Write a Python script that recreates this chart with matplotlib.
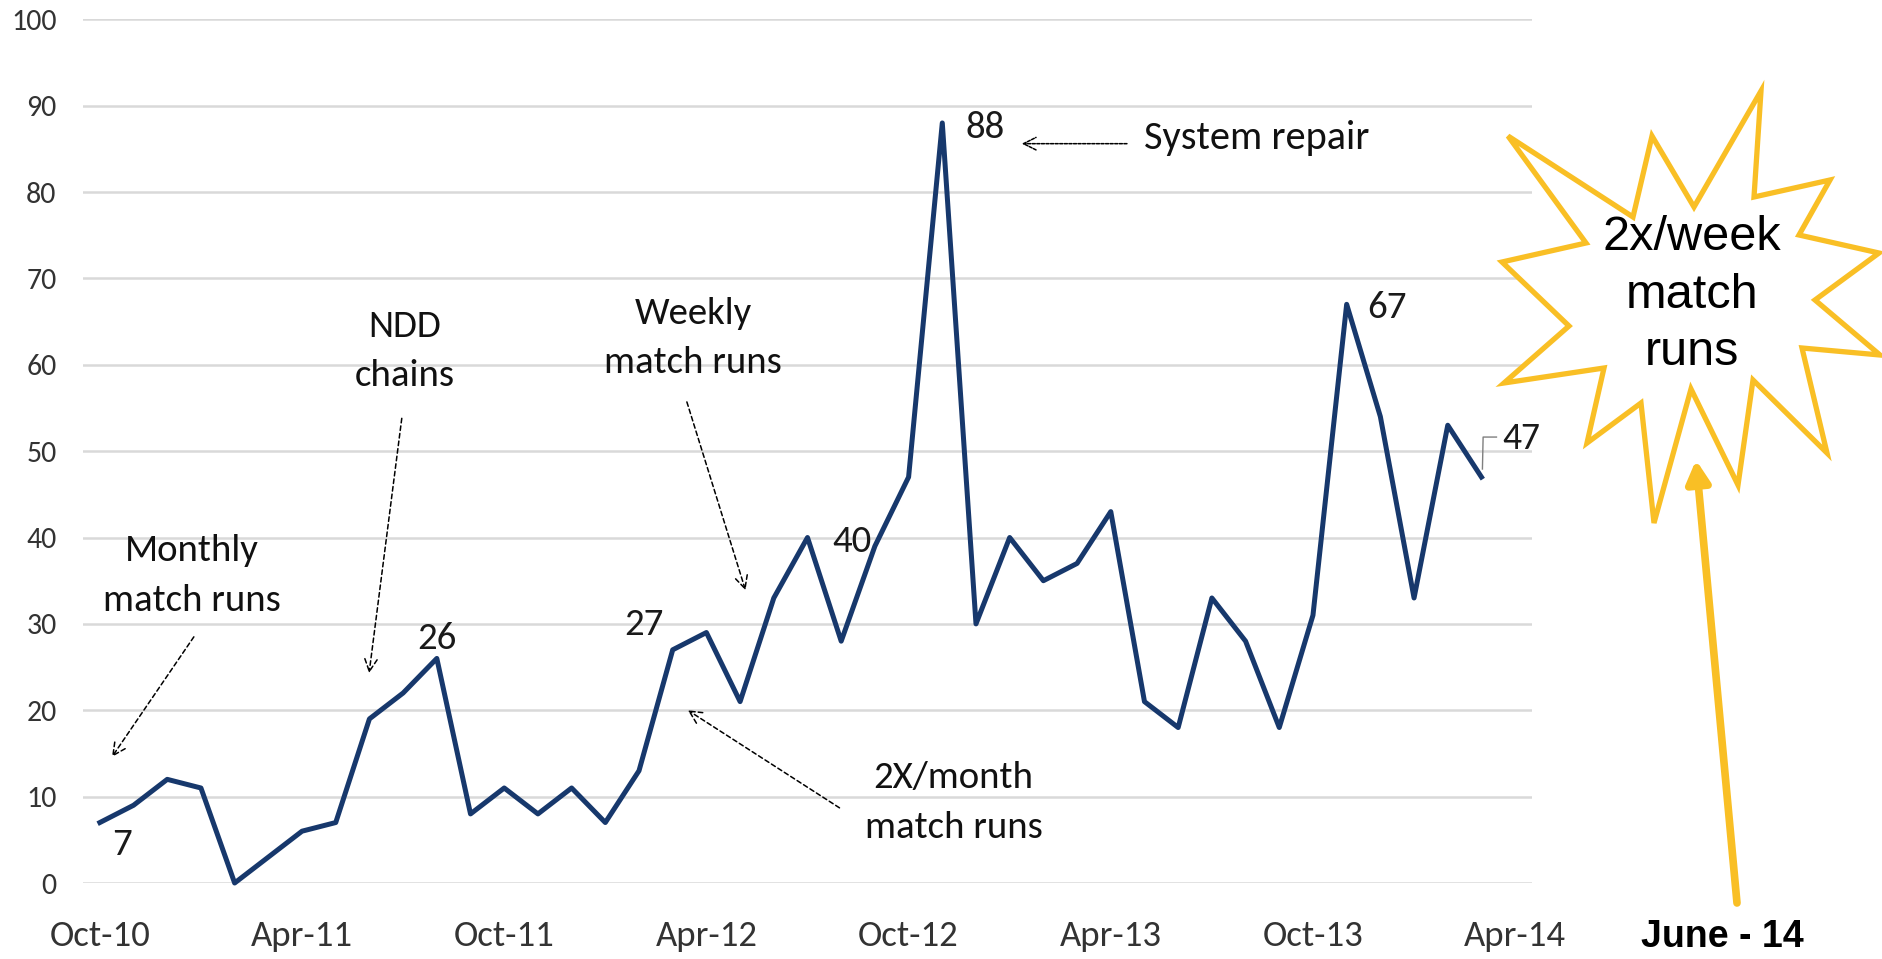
import matplotlib
matplotlib.use("Agg")
import matplotlib.pyplot as plt
from matplotlib import font_manager
from matplotlib.patches import Polygon, FancyArrowPatch
import pandas as pd

# ---------------- data ----------------
months = pd.date_range("2010-10-01", periods=43, freq="MS")  # Oct-10 .. Apr-14 (category axis)
values = [7, 9, 12, 11, 0, 3, 6, 7, 19, 22, 26, 8, 11, 8, 11, 7, 13, 27, 29, 21,
          33, 40, 28, 39, 47, 88, 30, 40, 35, 37, 43, 21, 18, 33, 28, 18, 31, 67,
          54, 33, 53, 47]  # Oct-10 .. Mar-14
tick_labels = ["Oct-10", "Apr-11", "Oct-11", "Apr-12", "Oct-12", "Apr-13", "Oct-13", "Apr-14"]
y_ticks = [0, 10, 20, 30, 40, 50, 60, 70, 80, 90, 100]
labelled_points = {"Oct-10": 7, "Aug-11": 26, "Mar-12": 27, "Jul-12": 40,
                   "Nov-12": 88, "Nov-13": 67, "Mar-14": 47}

# ---------------- fonts ----------------
avail = {f.name for f in font_manager.fontManager.ttflist}
def pick(cands):
    for c in cands:
        if c in avail:
            return c
    return "DejaVu Sans"
CAL = pick(["Carlito", "Calibri", "Lato", "Open Sans", "DejaVu Sans"])
ARIAL = pick(["Liberation Sans", "Arial", "DejaVu Sans"])

W, H = 1882, 959
fig = plt.figure(figsize=(W / 100, H / 100), dpi=100)
fig.patch.set_facecolor("white")

def fx(px):
    return px / W
def fy(py):
    return 1 - py / H

ax = fig.add_axes([fx(83), fy(883), (1532 - 83) / W, (883 - 19.3) / H])
x = list(range(len(values)))
labels_all = [m.strftime("%b-%y") for m in months]

ax.plot(x, values, color="#17386C", lw=3.6, solid_joinstyle="round", clip_on=False, zorder=3)
ax.set_xlim(-0.5, len(months) - 0.5)
ax.set_ylim(0, 100)
ax.set_yticks(y_ticks)
tick_pos = [labels_all.index(t) for t in tick_labels]
ax.set_xticks(tick_pos)
ax.set_xticklabels(tick_labels)
ax.yaxis.grid(True, color="#D9D9D9", lw=1.8)
ax.set_axisbelow(True)
for s in ax.spines.values():
    s.set_visible(False)
ax.tick_params(axis="both", length=0)
ax.tick_params(axis="y", pad=19, labelsize=21.5, labelcolor="#333333")
ax.tick_params(axis="x", pad=27, labelsize=26.5, labelcolor="#333333")
for t in ax.get_xticklabels() + ax.get_yticklabels():
    t.set_fontfamily(CAL)

LBL = 28
# data labels
offsets = {"Oct-10": (16, -16), "Aug-11": (0, 14), "Mar-12": (-21, 18), "Jul-12": (32, -3),
           "Nov-12": (31, -3), "Nov-13": (29, -2)}
for k, (dx, dy) in offsets.items():
    i = labels_all.index(k)
    ax.annotate(str(labelled_points[k]), (i, values[i]), xytext=(dx, dy), textcoords="offset points",
                ha="center", va="center", fontsize=LBL, family=CAL, color="#1a1a1a")

# 47 label with leader line
i47 = labels_all.index("Mar-14")
ax.annotate(str(labelled_points["Mar-14"]), (i47, values[i47]), xytext=(29, 28), textcoords="offset points",
            ha="center", va="center", fontsize=LBL - 1, family=CAL, color="#1a1a1a", annotation_clip=False)
pts_disp = ax.transData.transform([(i47, values[i47])])[0]
lx = [0.7, 1.2, 10.8]
ly = [5.8, 28.8, 28.8]
ax.plot([pts_disp[0] + v * 100 / 72 for v in lx], [pts_disp[1] + v * 100 / 72 for v in ly],
        transform=None, color="#7F7F7F", lw=1.0, clip_on=False, zorder=4)

# text annotations with dashed arrows
arrowprops = dict(arrowstyle="->,head_length=0.9,head_width=0.45", color="black", lw=1.1,
                  linestyle=(0, (3, 2)), shrinkA=0, shrinkB=0)
notes = [
    ("Monthly\nmatch runs", (2.73, 35.6), (2.79, 28.5), (0.36, 14.6)),
    ("NDD\nchains", (9.05, 61.6), (8.96, 53.8), (7.99, 24.3)),
    ("Weekly\nmatch runs", (17.6, 63.1), (17.42, 55.7), (19.16, 33.9)),
    ("2X/month\nmatch runs", (25.33, 9.3), (21.95, 8.7), (17.45, 20.0)),
]
for txt, tpos, tail, head in notes:
    ax.text(tpos[0], tpos[1], txt, ha="center", va="center", fontsize=LBL, family=CAL,
            linespacing=1.62, color="#111111")
    ax.annotate("", xy=head, xytext=tail, arrowprops=arrowprops)
ax.text(30.98, 86.3, "System repair", ha="left", va="center", fontsize=LBL + 1, family=CAL, color="#111111")
ax.annotate("", xy=(27.36, 85.6), xytext=(30.48, 85.6),
            arrowprops=dict(arrowstyle="->,head_length=0.9,head_width=0.45", color="black", lw=1.1,
                            linestyle=(0, (2, 1)), shrinkA=0, shrinkB=0))

# ---------------- star callout ----------------
star_px = [(1761, 91), (1754, 197), (1830, 180), (1799, 235), (1879, 253), (1815, 300),
           (1880, 355), (1802, 348), (1827, 453), (1753, 380), (1738, 485), (1691, 389),
           (1654, 523), (1641, 403), (1587, 443), (1604, 368), (1504, 383), (1569, 326),
           (1502, 262), (1586, 243), (1508, 136), (1633, 217), (1652, 136), (1694, 207)]
YEL = "#F9BF25"
star = Polygon([(fx(a), fy(b)) for a, b in star_px], closed=True, transform=fig.transFigure,
               facecolor="white", edgecolor=YEL, lw=3.8, joinstyle="miter", zorder=5)
fig.add_artist(star)
fig.text(fx(1692), fy(295), "2x/week\nmatch\nruns", ha="center", va="center", fontsize=35,
         family=ARIAL, linespacing=1.35, color="black", zorder=6)
arr = FancyArrowPatch((fx(1737), fy(903)), (fx(1696), fy(460)), transform=fig.transFigure,
                      arrowstyle="-|>,head_length=13,head_width=7", mutation_scale=1,
                      color=YEL, lw=5.5, shrinkA=0, shrinkB=0, zorder=6)
fig.add_artist(arr)
fig.text(fx(1722), fy(937), "June - 14", ha="center", va="center", fontsize=27,
         fontweight="bold", family=ARIAL, color="black")

fig.savefig("out.png", dpi=100, facecolor="white")
